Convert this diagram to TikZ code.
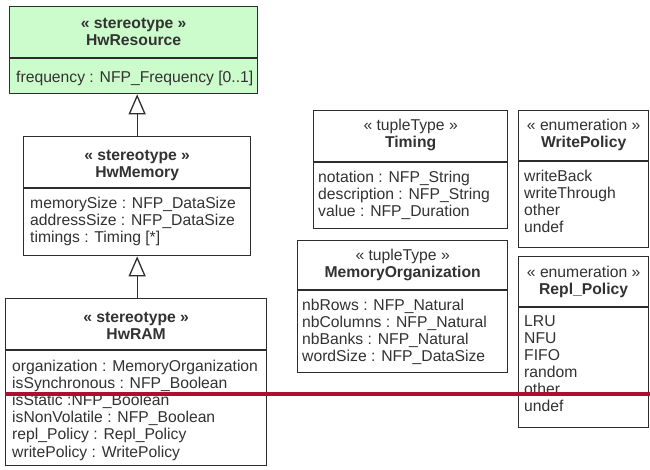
\documentclass[tikz,border=0pt]{standalone}
\usepackage{fontspec}
\setmainfont{Liberation Sans}
\usetikzlibrary{arrows.meta}
\definecolor{umlgreen}{RGB}{204,252,204}
\definecolor{edgecol}{RGB}{45,45,45}
\definecolor{txtcol}{RGB}{50,50,50}
\definecolor{redline}{RGB}{172,16,48}
\tikzset{
  umlbox/.style={draw=edgecol, line width=1.3pt, anchor=north west, inner sep=0pt, fill=white},
  divider/.style={draw=edgecol, line width=1.3pt},
  txtline/.style={anchor=base west, inner sep=0pt, text=txtcol, font=\fontsize{15.7}{17}\selectfont},
  hdr/.style={anchor=base, inner sep=0pt, text=txtcol, font=\fontsize{15.7}{17}\selectfont},
  gen/.style={draw=edgecol, line width=1.3pt, -{Triangle[open, length=20pt, width=17pt]}},
  cutline/.style={draw=redline, line width=3.5pt},
}
\begin{document}
\begin{tikzpicture}[x=1pt,y=-1pt]
\useasboundingbox (0,0) rectangle (650,469);

% ---------- HwResource ----------
\node[umlbox, fill=umlgreen, minimum width=248pt, minimum height=87pt] (res) at (9,6) {};
\draw[divider] (res.west |- 0,58) -- (res.east |- 0,58);
\node[hdr] (res-s) at (res.north |- 0,28) {\bfseries « stereotype »};
\node[hdr] (res-n) at (res.north |- 0,45) {\bfseries HwResource};
\node[txtline] (res-a1) at (16,82) {frequency : NFP\_Frequency [0..1]};

% ---------- HwMemory ----------
\node[umlbox, minimum width=227pt, minimum height=119pt] (mem) at (23,136) {};
\draw[divider] (mem.west |- 0,188) -- (mem.east |- 0,188);
\node[hdr] (mem-s) at (mem.north |- 0,160) {\bfseries « stereotype »};
\node[hdr] (mem-n) at (mem.north |- 0,177) {\bfseries HwMemory};
\node[txtline] (mem-a1) at (30,208) {memorySize : NFP\_DataSize};
\node[txtline] (mem-a2) at (30,225) {addressSize : NFP\_DataSize};
\node[txtline] (mem-a3) at (30,242) {timings : Timing [*]};

% ---------- HwRAM ----------
\node[umlbox, minimum width=261pt, minimum height=167pt] (ram) at (5,298) {};
\draw[divider] (ram.west |- 0,350) -- (ram.east |- 0,350);
\node[hdr] (ram-s) at (ram.north |- 0,322) {\bfseries « stereotype »};
\node[hdr] (ram-n) at (ram.north |- 0,339) {\bfseries HwRAM};
\node[txtline] (ram-a1) at (12,371) {organization : MemoryOrganization};
\node[txtline] (ram-a2) at (12,388.2) {isSynchronous : NFP\_Boolean};
\node[txtline] (ram-a3) at (12,405.4) {isStatic :NFP\_Boolean};
\node[txtline] (ram-a4) at (12,422.6) {isNonVolatile : NFP\_Boolean};
\node[txtline] (ram-a5) at (12,439.8) {repl\_Policy : Repl\_Policy};
\node[txtline] (ram-a6) at (12,457) {writePolicy : WritePolicy};

% ---------- Timing ----------
\node[umlbox, minimum width=194pt, minimum height=118pt] (tim) at (313,110) {};
\draw[divider] (tim.west |- 0,162) -- (tim.east |- 0,162);
\node[hdr] (tim-s) at (tim.north |- 0,130) {« tupleType »};
\node[hdr] (tim-n) at (tim.north |- 0,147) {\bfseries Timing};
\node[txtline] (tim-a1) at (318,182) {notation : NFP\_String};
\node[txtline] (tim-a2) at (318,199) {description : NFP\_String};
\node[txtline] (tim-a3) at (318,216) {value : NFP\_Duration};

% ---------- WritePolicy ----------
\node[umlbox, minimum width=130pt, minimum height=137pt] (wp) at (518,110) {};
\draw[divider] (wp.west |- 0,161) -- (wp.east |- 0,161);
\node[hdr] (wp-s) at (wp.north |- 0,130) {« enumeration »};
\node[hdr] (wp-n) at (wp.north |- 0,147) {\bfseries WritePolicy};
\node[txtline] (wp-a1) at (524,181) {writeBack};
\node[txtline] (wp-a2) at (524,198) {writeThrough};
\node[txtline] (wp-a3) at (524,215) {other};
\node[txtline] (wp-a4) at (524,232) {undef};

% ---------- MemoryOrganization ----------
\node[umlbox, minimum width=210pt, minimum height=132pt] (mo) at (297,240) {};
\draw[divider] (mo.west |- 0,290) -- (mo.east |- 0,290);
\node[hdr] (mo-s) at (mo.north |- 0,260) {« tupleType »};
\node[hdr] (mo-n) at (mo.north |- 0,277) {\bfseries MemoryOrganization};
\node[txtline] (mo-a1) at (302,310) {nbRows : NFP\_Natural};
\node[txtline] (mo-a2) at (302,327) {nbColumns : NFP\_Natural};
\node[txtline] (mo-a3) at (302,344) {nbBanks : NFP\_Natural};
\node[txtline] (mo-a4) at (302,361) {wordSize : NFP\_DataSize};

% ---------- Repl_Policy ----------
\node[umlbox, minimum width=130pt, minimum height=171pt] (rp) at (518,256) {};
\draw[divider] (rp.west |- 0,307) -- (rp.east |- 0,307);
\node[hdr] (rp-s) at (rp.north |- 0,277) {« enumeration »};
\node[hdr] (rp-n) at (rp.north |- 0,294) {\bfseries Repl\_Policy};
\node[txtline] (rp-a1) at (524,326) {LRU};
\node[txtline] (rp-a2) at (524,343) {NFU};
\node[txtline] (rp-a3) at (524,360) {FIFO};
\node[txtline] (rp-a4) at (524,377) {random};
\node[txtline] (rp-a5) at (524,394) {other};
\node[txtline] (rp-a6) at (524,411) {undef};

% ---------- generalizations ----------
\draw[gen] (mem.north) -- (mem.north |- res.south);
\draw[gen] (ram.north -| mem.south) -- (mem.south);

% ---------- red cut line ----------
\coordinate (cut-l) at (5,394);
\coordinate (cut-r) at (650,394);
\draw[cutline] (cut-l) -- (cut-r);
\end{tikzpicture}
\end{document}
